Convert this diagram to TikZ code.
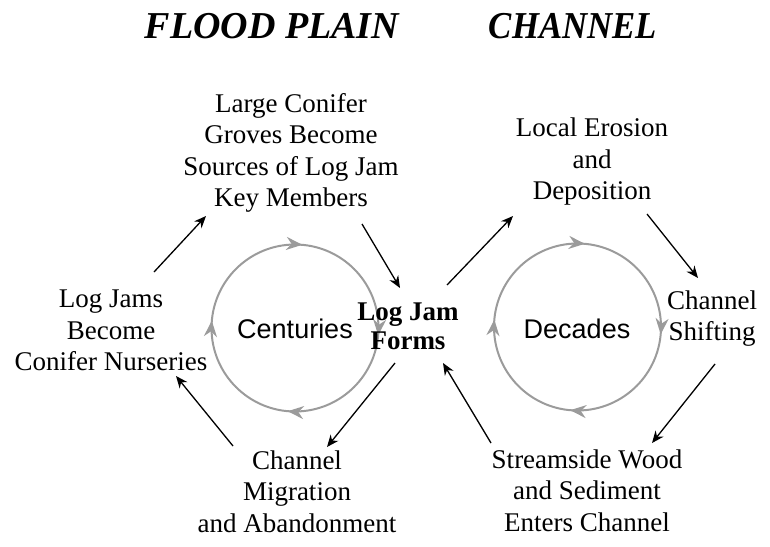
\documentclass[tikz,border=0pt]{standalone}
\usepackage{fontspec}
\setmainfont{Liberation Serif}
\newfontfamily\sansf{Liberation Sans}
\usetikzlibrary{arrows.meta,decorations.markings}
\definecolor{cgray}{RGB}{155,155,155}
\begin{document}
\begin{tikzpicture}[x=1pt,y=-1pt,
  lbl/.style={align=center, font=\fontsize{27}{31.5}\selectfont, inner sep=0pt, anchor=base},
  boldlbl/.style={lbl, font=\fontsize{27}{29}\selectfont\bfseries},
  sanslbl/.style={font=\fontsize{27}{31}\selectfont\sansf, inner sep=0pt, anchor=base},
  ttl/.style={font=\fontsize{38}{42}\selectfont\bfseries\itshape, inner sep=0pt, anchor=base},
  flow/.style={line width=1.3pt, -{Stealth[length=12pt,width=10pt]}},
  cyc/.style={draw=cgray, line width=2pt, postaction={decorate},
    decoration={markings,
      mark=at position 0.014 with {\arrow[cgray]{Stealth[length=16pt,width=13pt]}},
      mark=at position 0.264 with {\arrow[cgray]{Stealth[length=16pt,width=13pt]}},
      mark=at position 0.514 with {\arrow[cgray]{Stealth[length=16pt,width=13pt]}},
      mark=at position 0.764 with {\arrow[cgray]{Stealth[length=16pt,width=13pt]}}}}
]
\useasboundingbox (0,0) rectangle (770,546);
% titles
\node[ttl] (t1) at (272,38) {FLOOD PLAIN};
\node[ttl, xscale=0.915] (t2) at (573,38) {CHANNEL};
% cycles
\draw[cyc] (378.5,328) arc[start angle=0, end angle=360, radius=83.5];
\draw[cyc] (661,327) arc[start angle=0, end angle=360, radius=83.5];
\node[sanslbl] (cent) at (295,338) {Centuries};
\node[sanslbl] (dec) at (577,338) {Decades};
% labels (anchor = baseline of last line)
\node[lbl] (conifer) at (291,206.5) {Large Conifer\\Groves Become\\Sources of Log Jam\\Key Members};
\node[lbl] (nursery) at (111,370.5) {Log Jams\\Become\\Conifer Nurseries};
\node[lbl] (migr) at (297,532) {Channel\\Migration\\and Abandonment};
\node[boldlbl] (jam) at (408,349) {Log Jam\\Forms};
\node[lbl] (erosion) at (592,199.5) {Local Erosion\\and\\Deposition};
\node[lbl] (shift) at (712,340.5) {Channel\\Shifting};
\node[lbl] (wood) at (587,531) {Streamside Wood\\and Sediment\\Enters Channel};
% connector ends
\coordinate (n1) at (154,272); \coordinate (c1) at (206,216);
\coordinate (c2) at (362,224); \coordinate (j2) at (400,288);
\coordinate (j3) at (395,363); \coordinate (m3) at (327,447);
\coordinate (m4) at (233,446); \coordinate (n4) at (176,376);
\coordinate (j5) at (447,285); \coordinate (e5) at (513,216);
\coordinate (e6) at (647,214); \coordinate (s6) at (698,278);
\coordinate (s7) at (715,364); \coordinate (w7) at (652,443);
\coordinate (w8) at (491,443); \coordinate (j8) at (443,363);
\draw[flow] (n1) -- (c1);
\draw[flow] (c2) -- (j2);
\draw[flow] (j3) -- (m3);
\draw[flow] (m4) -- (n4);
\draw[flow] (j5) -- (e5);
\draw[flow] (e6) -- (s6);
\draw[flow] (s7) -- (w7);
\draw[flow] (w8) -- (j8);
\end{tikzpicture}
\end{document}
